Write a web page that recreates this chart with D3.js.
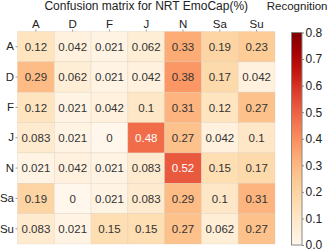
<!DOCTYPE html>
<html><head><meta charset="utf-8">
<script src="https://cdn.jsdelivr.net/npm/d3@7/dist/d3.min.js"></script>
<style>body{margin:0;background:#fff;}svg{display:block;font-family:"Liberation Sans",Arial,sans-serif;}</style>
</head><body>
<svg id="c" width="329" height="252"></svg>
<script>
const rowLabels = ["A","D","F","J","N","Sa","Su"];
const colLabels = ["A","D","F","J","N","Sa","Su"];
const rowA  = [0.12, 0.042, 0.021, 0.062, 0.33, 0.19, 0.23];
const rowD  = [0.29, 0.062, 0.021, 0.042, 0.38, 0.17, 0.042];
const rowF  = [0.12, 0.021, 0.042, 0.1, 0.31, 0.12, 0.27];
const rowJ  = [0.083, 0.021, 0, 0.48, 0.27, 0.042, 0.1];
const rowN  = [0.021, 0.042, 0.021, 0.083, 0.52, 0.15, 0.17];
const rowSa = [0.19, 0, 0.021, 0.083, 0.29, 0.1, 0.31];
const rowSu = [0.083, 0.021, 0.15, 0.15, 0.27, 0.062, 0.27];
const matrix = [rowA,rowD,rowF,rowJ,rowN,rowSa,rowSu];
const cbTicks = [0.0,0.1,0.2,0.3,0.4,0.5,0.6,0.7,0.8];
const titleText = "Confusion matrix for NRT EmoCap(%)";
const cbTitle = "Recognition";

const svg = d3.select("#c");
const gx0 = 17.5, gx1 = 275, gy0 = 31.5, gy1 = 244;
const x = d3.scaleBand().domain(colLabels).range([gx0,gx1]);
const y = d3.scaleBand().domain(rowLabels).range([gy0,gy1]);
const color = d3.scaleSequential(d3.interpolateOrRd).domain([0,0.8]);

const cells = [];
matrix.forEach((r,i)=>r.forEach((v,j)=>cells.push({r:rowLabels[i],c:colLabels[j],v})));

svg.append("g").selectAll("rect").data(cells).join("rect")
  .attr("x",d=>x(d.c)).attr("y",d=>y(d.r))
  .attr("width",x.bandwidth()).attr("height",y.bandwidth())
  .attr("fill",d=>color(d.v))
  .attr("stroke","#d9c9b8").attr("stroke-opacity",0.6).attr("stroke-width",0.5);

svg.append("g").selectAll("text").data(cells).join("text")
  .attr("x",d=>x(d.c)+x.bandwidth()/2).attr("y",d=>y(d.r)+y.bandwidth()/2)
  .attr("dy","0.36em").attr("text-anchor","middle")
  .attr("font-size",11.5).attr("fill",d=>d.v>0.4?"#fff":"#333")
  .text(d=>d3.format("")(d.v));

// axes
const ax = svg.append("g").attr("transform",`translate(0,${gy0})`)
  .call(d3.axisTop(x).tickSize(2).tickPadding(2));
const ay = svg.append("g").attr("transform",`translate(${gx0},0)`)
  .call(d3.axisLeft(y).tickSize(2).tickPadding(1.5));
[ax,ay].forEach(a=>{
  a.select(".domain").remove();
  a.selectAll(".tick line").attr("stroke","#999");
  a.selectAll("text").attr("font-size",11.5).attr("fill","#222").attr("font-family","Liberation Sans, Arial, sans-serif");
});

svg.append("text").attr("x",(gx0+gx1)/2).attr("y",10).attr("text-anchor","middle")
  .attr("font-size",12).attr("fill","#222").text(titleText);
svg.append("text").attr("x",327.5).attr("y",10).attr("text-anchor","end")
  .attr("font-size",11.5).attr("fill","#222").text(cbTitle);

// colorbar
const cbx = 291.5, cbw = 10.5, cby0 = 32.5, cby1 = 245;
const cy = d3.scaleLinear().domain([0,0.8]).range([cby1,cby0]);
const defs = svg.append("defs");
const grad = defs.append("linearGradient").attr("id","cbg").attr("x1",0).attr("y1",1).attr("x2",0).attr("y2",0);
d3.range(0,1.0001,0.05).forEach(t=>grad.append("stop").attr("offset",t).attr("stop-color",color(t*0.8)));
svg.append("rect").attr("x",cbx).attr("y",cby0).attr("width",cbw).attr("height",cby1-cby0)
  .attr("fill","url(#cbg)").attr("stroke","#888").attr("stroke-width",1);
const ac = svg.append("g").attr("transform",`translate(${cbx+cbw},0)`)
  .call(d3.axisRight(cy).tickValues(cbTicks).tickFormat(d3.format(".1f")).tickSize(2).tickPadding(1.5));
ac.select(".domain").remove();
ac.selectAll(".tick line").attr("stroke","#888");
ac.selectAll("text").attr("font-size",12).attr("fill","#222").attr("font-family","Liberation Sans, Arial, sans-serif");
</script>
</body></html>
